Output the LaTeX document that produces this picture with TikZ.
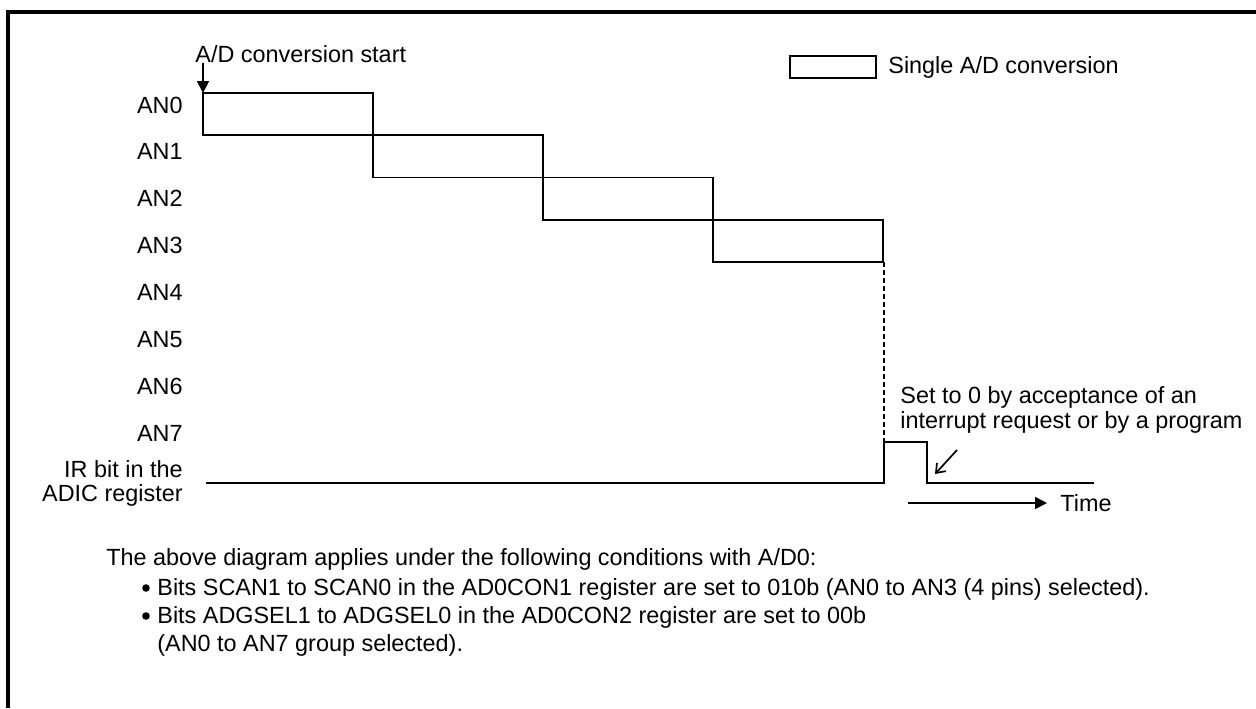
\documentclass[tikz,border=0pt]{standalone}
\usepackage{fontspec}
\setmainfont{Liberation Sans}
\usetikzlibrary{arrows.meta,positioning}

\begin{document}
\begin{tikzpicture}[
    x=0.5pt, y=-0.5pt,
    every node/.style={inner sep=0pt, font=\fontsize{11.7}{14}\selectfont},
    chlabel/.style={anchor=east},
    textline/.style={anchor=base west},
    dot/.style={circle, fill, minimum size=3.8pt},
    wave/.style={line width=0.85pt},
    tip/.style={-{Triangle[length=6pt,width=6pt]}, line width=0.85pt}
]
    \useasboundingbox (0,0) rectangle (1256,708);

    % Frame
    \draw[line width=2pt] (8,708) -- (8,12) -- (1256,12);

    % Legend
    \draw[line width=1pt] (790,56) rectangle (876,78);
    \node[anchor=west] (legend) at (888,67) {Single A/D conversion};

    % Channels
    \foreach \i in {0,...,7}
        \node[chlabel] (an\i) at (183,{105+46.9*\i}) {AN\i};
    \node[chlabel, align=right, font=\fontsize{11.7}{12}\selectfont] (ir) at (183,483)
        {IR bit in the\\ADIC register};

    % Conversions, one after the other
    \foreach \i in {0,...,3}
        \draw[wave] ({203+170*\i},{93+42.25*\i}) rectangle ({373+170*\i},{135.25+42.25*\i});

    \node[textline] (start) at (195,62) {A/D conversion start};
    \coordinate (t0) at (203,93);
    \draw[tip] (start.south west -| t0) -- (t0);

    % IR bit
    \draw[wave] (206,483) -- (884,483) -- (884,442) -- (927,442) -- (927,483) -- (1094,483);
    \draw[line width=1.3pt, dash pattern=on 2.5pt off 1.5pt] (884,262) -- (884,442);

    \node[anchor=west, align=left, font=\fontsize{11.7}{12.5}\selectfont] (clrtxt) at (900,410)
        {Set to 0 by acceptance of an\\interrupt request or by a program};
    \coordinate (clr0) at (957,450);
    \coordinate (clr) at (935,474);
    \draw[-{Straight Barb[length=4pt,width=6pt]}, line width=0.85pt] (clr0) -- (clr);

    % Time axis
    \node[anchor=west] (time) at (1060,503) {Time};
    \coordinate (t1) at (908,503);
    \draw[tip] (t1) -- ([xshift=-6.5pt]time.west);

    % Conditions
    \node[textline] (cond) at (106,565) {The above diagram applies under the following conditions with A/D0:};
    \node[dot] (b1) at (146,588) {};
    \node[textline] (scan) at (157,595) {Bits SCAN1 to SCAN0 in the AD0CON1 register are set to 010b (AN0 to AN3 (4 pins) selected).};
    \node[dot] (b2) at (146,616) {};
    \node[textline] (grp) at (157,623) {Bits ADGSEL1 to ADGSEL0 in the AD0CON2 register are set to 00b};
    \node[textline] (grp2) at (157,651) {(AN0 to AN7 group selected).};
\end{tikzpicture}
\end{document}
